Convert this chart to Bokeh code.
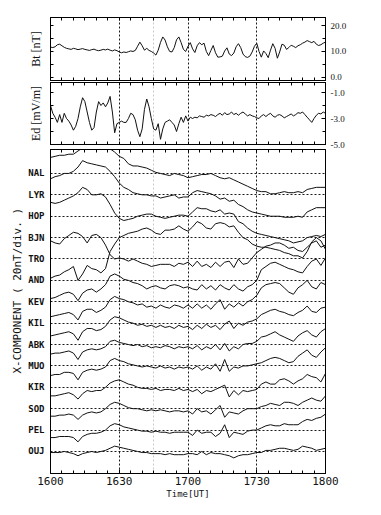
from bokeh.plotting import figure
from bokeh.models import Range1d, LinearAxis, FixedTicker, Grid, Title
from bokeh.layouts import column
from bokeh.embed import file_html
from bokeh.resources import INLINE

# ---------------- data ----------------
# time in minutes after 16:00 UT
minutes_fine = list(range(0, 121))          # 1-min samples (Bt, Ed)
minutes = list(range(0, 121, 2))            # 2-min samples (magnetometers)
time_ticks = [0, 30, 60, 90, 120]
time_labels = ["1600", "1630", "1700", "1730", "1800"]
minor_time_ticks = list(range(0, 121, 5))
grid_times = [30, 60, 90]
faint_grid_times = [45]

bt_nT = [11.7, 11.5, 11.8, 12.6, 12.8, 12.2, 11.6, 11.2, 11.0, 10.8,
         11.2, 11.0, 10.7, 10.9, 11.1, 10.8, 10.6, 10.4, 10.7, 10.9,
         10.5, 10.3, 10.5, 10.8, 10.6, 10.9, 10.5, 10.2, 10.6, 10.3,
         9.8, 9.5, 9.8, 9.6, 9.9, 10.2, 10.0, 10.4, 12.0, 13.6,
         12.2, 10.5, 11.2, 10.4, 10.0, 9.4, 8.6, 10.5, 13.5, 15.6,
         14.4, 11.8, 10.0, 9.8, 11.5, 14.5, 15.6, 13.4, 10.8, 10.0,
         12.0, 13.4, 11.0, 9.6, 12.2, 13.4, 12.6, 13.2, 10.0, 8.4,
         10.4, 12.3, 9.5, 7.8, 7.9, 8.2, 10.2, 11.4, 9.0, 8.4,
         9.4, 11.8, 13.0, 11.5, 9.0, 8.0, 7.7, 8.2, 9.8, 12.0,
         13.2, 10.0, 7.8, 10.2, 9.2, 7.6, 10.5, 13.0, 11.2, 7.4,
         9.8, 12.8, 12.4, 10.8, 11.5, 12.4, 12.0, 11.5, 12.2, 12.6,
         13.2, 13.6, 14.2, 13.8, 13.4, 13.9, 12.8, 12.3, 12.6, 13.2,
         13.6]
bt_ticks = [0, 10, 20]
bt_minor = [0, 5, 10, 15, 20]

ed_mVm = [-2.0, -2.6, -2.9, -3.3, -2.7, -3.3, -2.6, -3.0, -3.2, -3.5,
          -3.9, -3.6, -3.0, -2.1, -1.4, -1.7, -2.5, -3.3, -3.9, -3.7,
          -2.5, -1.7, -2.0, -1.8, -2.1, -1.8, -1.3, -2.5, -4.1, -3.4,
          -3.3, -3.2, -3.3, -3.3, -3.0, -2.6, -2.7, -3.1, -3.9, -4.4,
          -3.8, -2.3, -1.5, -2.1, -3.0, -3.8, -3.9, -3.4, -4.6, -3.8,
          -3.3, -3.2, -3.1, -3.3, -3.5, -4.0, -3.4, -2.9, -3.3, -2.8,
          -3.2, -2.9, -3.0, -2.9, -2.95, -2.8, -2.85, -2.9, -2.75, -2.8,
          -2.7, -2.75, -2.85, -2.7, -2.6, -2.75, -2.55, -2.7, -2.65, -2.5,
          -2.7, -2.6, -2.75, -2.6, -2.5, -2.65, -2.8, -2.7, -2.8, -2.85,
          -2.95, -3.0, -2.8, -2.7, -2.85, -2.7, -2.6, -2.8, -2.9, -2.75,
          -2.7, -2.8, -2.95, -2.85, -2.75, -2.65, -2.8, -2.7, -2.55, -2.6,
          -2.5, -2.7, -2.9, -3.1, -3.3, -3.0, -2.75, -2.6, -2.65, -2.5,
          -2.6]
ed_ticks = [-5, -3, -1]
ed_minor = [-5, -4, -3, -2, -1]

stations = ["NAL", "LYR", "HOP", "BJN", "TRO", "AND", "KEV",
            "KIL", "ABK", "MUO", "KIR", "SOD", "PEL", "OUJ"]
nT_per_div = 20
y_title = "X-COMPONENT ( 20nT/div. )"

# X-component deviations (nT) from each station's baseline, every 2 min
x_nal = [15, 16, 17, 17, 18, 18, 21, 24, 24, 25, 24, 24, 25, 23, 20, 16, 14, 9, 7, 7,
         6, 5, 3, 1, 0, -1, -2, 0, -1, -2, -4, -3, -2, -1, -1, 0, -2, -4, -5, -4,
         -6, -8, -10, -12, -14, -16, -17, -17, -19, -19, -18, -17, -18, -18, -17, -18, -15, -14, -13, -13,
         -13]
x_lyr = [15, 17, 18, 20, 20, 22, 26, 32, 30, 29, 28, 27, 26, 22, 17, 11, 7, 5, 2, 1,
         0, 0, -1, -1, -3, -2, -1, 0, -3, -2, -2, 2, 4, 3, 2, 1, -1, -4, -3, -6,
         -5, -9, -11, -14, -16, -17, -18, -19, -20, -20, -20, -21, -21, -21, -20, -21, -16, -14, -12, -12,
         -12]
x_hop = [13, 12, 13, 15, 17, 19, 22, 27, 25, 20, 20, 21, 18, 11, 3, -2, -4, -3, -2, 0,
         1, 2, 2, 0, -1, -2, -1, 0, 1, 1, 0, 4, 8, 7, 7, 5, 4, 6, 2, 3,
         2, -5, -7, -11, -14, -16, -17, -18, -19, -20, -21, -22, -23, -25, -24, -23, -20, -19, -18, -19,
         -17]
x_bjn = [-3, -5, -6, -1, 2, 5, 4, 1, -5, 2, 3, 0, -7, -16, -20, -19, -20, -22, -20, -22,
         -24, -25, -27, -26, -25, -25, -25, -27, -24, -25, -23, -27, -22, -27, -25, -28, -23, -27, -23, -22,
         -28, -20, -25, -24, -19, -14, -11, -8, -7, -5, -5, -7, -10, -9, -12, -13, -9, -5, -3, -9,
         -7]
x_tro = [-18, -16, -15, -12, -10, -7, -20, -14, -6, -9, -10, -13, -9, 7, 14, 20, 22, 24, 25, 26,
         28, 29, 27, 24, 23, 27, 27, 28, 31, 28, 26, 30, 35, 33, 29, 28, 33, 34, 33, 30,
         31, 25, 20, 18, 14, 12, 11, 11, 10, 9, 8, 6, 5, 3, 3, 1, 7, 16, 20, 17,
         9]
x_and = [-17, -16, -14, -12, -11, -13, -19, -12, -9, -8, -11, -8, -4, 4, 6, 4, 1, 0, -2, -3,
         -5, -8, -6, -5, -7, -8, -5, -4, -5, -7, -6, -8, -9, -4, -8, -5, -9, -4, -7, -9,
         -4, -8, -10, -6, -4, 0, 10, 13, 16, 17, 15, 13, 11, 10, 8, 7, 13, 18, 20, 14,
         21]
x_kev = [-14, -13, -12, -11, -10, -12, -17, -9, -7, -7, -10, -8, -5, 2, 5, 3, 2, 0, -1, -3,
         -2, -5, -4, -6, -3, -5, -6, -3, -4, -6, -3, -6, -2, -6, -3, -7, -2, 2, -7, -2,
         -5, -1, -4, 0, 2, 6, 13, 16, 17, 18, 17, 13, 9, 7, 13, 16, 20, 14, 12, 18,
         16]
x_kil = [-12, -11, -10, -9, -8, -10, -16, -8, -5, -5, -7, -6, -3, 3, 6, 5, 3, 1, 0, -2,
         -1, -3, -2, -4, -2, -4, -3, -5, -2, -4, -3, -6, -2, -5, -1, -4, -2, -6, -1, 2,
         -5, 0, -2, 1, 2, 4, 8, 10, 12, 13, 11, 10, 8, 7, 10, 12, 16, 11, 10, 14,
         15]
x_abk = [-9, -8, -8, -7, -6, -8, -14, -7, -5, -4, -5, -4, -2, 3, 4, 2, 1, 0, -1, 0,
         -2, -1, -3, -2, -3, -1, -2, -4, -2, -3, -2, -4, -1, -5, -2, -4, 0, -5, 1, -6,
         -2, -4, 0, 1, 1, 3, 7, 8, 10, 12, 9, 7, 5, 3, 8, 11, 13, 9, 7, 12,
         15]
x_muo = [-9, -8, -8, -6, -6, -7, -13, -6, -4, -3, -4, -3, -1, 5, 7, 5, 4, 2, 1, 0,
         -1, 0, -1, -2, 0, -2, -1, -3, -1, -2, -1, -3, 0, -4, -1, -3, 2, -5, 6, -5,
         -1, -2, 0, 0, 1, 2, 3, 5, 7, 8, 7, 5, 3, 4, 9, 12, 15, 10, 8, 13,
         17]
x_kir = [-8, -8, -7, -6, -5, -7, -11, -6, -3, -4, -3, -3, 0, 4, 6, 7, 5, 3, 2, 0,
         -1, -1, -2, -1, -3, -2, -2, -3, -1, -3, -2, -4, -2, -6, -3, -4, -2, 0, 2, -9,
         -3, -7, -3, -4, -3, -2, 3, 5, 3, 3, 7, 8, 6, 3, 6, 8, 12, 10, 9, 5,
         13]
x_sod = [-7, -7, -6, -6, -5, -6, -10, -6, -4, -3, -4, -3, 0, 4, 6, 5, 3, 1, 0, 0,
         -1, -2, -1, -2, -1, -2, -3, -2, -2, -3, -2, -5, 0, -3, -2, -5, -1, 3, -8, -3,
         -4, -5, -2, 0, 0, 0, 2, 3, 5, 4, 3, 6, 6, 5, 3, 6, 8, 10, 8, 7,
         12]
x_pel = [-7, -7, -6, -6, -6, -7, -11, -6, -4, -3, -3, -2, 0, 4, 6, 5, 3, 2, 1, 0,
         -1, -1, -2, -1, -2, -2, -3, -2, -2, -2, -2, -5, 0, -3, -2, -2, -6, -3, 5, -7,
         -2, -3, -4, -1, 0, 0, 2, 4, 5, 4, 4, 6, 5, 5, 5, 8, 10, 9, 11, 12,
         15]
x_ouj = [-1, -1, -1, 0, -1, -2, -4, -2, -1, 0, -1, 0, 1, 3, 5, 4, 3, 2, 1, 0,
         -1, -1, -2, -2, -2, -3, -2, -3, -3, -3, -2, -2, -3, 0, -3, -1, -2, -2, -3, -4,
         -6, -4, -3, -3, -2, -1, -1, 1, 1, 2, 3, 3, 2, 1, 2, 5, 4, 3, 1, 2,
         3]
station_series = [x_nal, x_lyr, x_hop, x_bjn, x_tro, x_and, x_kev,
                  x_kil, x_abk, x_muo, x_kir, x_sod, x_pel, x_ouj]

# ---------------- styling helpers ----------------
W = 373
INK = "#111111"
MONO = "DejaVu Sans Mono"
SERIF = "Liberation Serif"


def base_fig(height, y_range, top, bottom):
    p = figure(width=W, height=height, x_range=Range1d(0, 120), y_range=y_range,
               x_axis_type=None, y_axis_type=None,
               output_backend="svg", toolbar_location=None,
               min_border_left=50, min_border_right=48,
               min_border_top=top, min_border_bottom=bottom)
    p.outline_line_color = "black"
    p.outline_line_width = 1
    p.background_fill_color = "white"
    p.border_fill_color = "white"
    p.add_layout(Grid(dimension=0, ticker=FixedTicker(ticks=faint_grid_times),
                      grid_line_color="#c8c8c8", grid_line_dash="2 2", grid_line_width=1))
    p.add_layout(Grid(dimension=0, ticker=FixedTicker(ticks=grid_times),
                      grid_line_color="black", grid_line_dash="2 2", grid_line_width=0.9))
    return p


def inward(ax):
    ax.major_tick_in = 4
    ax.major_tick_out = 0
    ax.minor_tick_in = 3
    ax.minor_tick_out = 0
    ax.axis_line_color = "black"
    ax.major_tick_line_color = "black"
    ax.minor_tick_line_color = "black"
    return ax


def tick_only_axis(minor):
    # only minor ticks -> tick marks without any tick labels
    ax = LinearAxis(ticker=FixedTicker(ticks=[], minor_ticks=minor))
    return inward(ax)


def time_axis_labeled():
    ax = LinearAxis(ticker=FixedTicker(ticks=time_ticks, minor_ticks=minor_time_ticks))
    inward(ax)
    ax.major_label_overrides = dict(zip(time_ticks, time_labels))
    ax.major_label_text_font = MONO
    ax.major_label_text_font_size = "11px"
    ax.major_label_text_color = INK
    ax.major_label_standoff = 3
    ax.axis_label = "Time[UT]"
    ax.axis_label_text_font = MONO
    ax.axis_label_text_font_size = "9px"
    ax.axis_label_text_font_style = "normal"
    ax.axis_label_text_color = INK
    ax.axis_label_standoff = 1
    return ax


def value_axes(p, ticks, minor, fmt, title, standoff):
    left = tick_only_axis(minor)
    left.axis_label = title
    left.axis_label_text_font = SERIF
    left.axis_label_text_font_size = "12px"
    left.axis_label_text_font_style = "normal"
    left.axis_label_text_color = INK
    left.axis_label_standoff = standoff
    right = LinearAxis(ticker=FixedTicker(ticks=ticks, minor_ticks=minor))
    inward(right)
    right.major_label_overrides = {t: fmt % t for t in ticks}
    right.major_label_text_font = SERIF
    right.major_label_text_font_size = "9px"
    right.major_label_text_color = INK
    right.major_label_standoff = 5
    p.add_layout(left, "left")
    p.add_layout(right, "right")


# ---------------- Bt panel ----------------
p1 = base_fig(81, Range1d(-1.2, 23.1), 17, 1)
p1.add_layout(tick_only_axis(minor_time_ticks), "above")
p1.add_layout(tick_only_axis(minor_time_ticks), "below")
value_axes(p1, bt_ticks, bt_minor, "%.1f", "Bt [nT]", 8)
p1.line(minutes_fine, bt_nT, line_color=INK, line_width=1)

# ---------------- Ed panel ----------------
p2 = base_fig(67, Range1d(-5.0, -0.23), 1, 4)
p2.add_layout(tick_only_axis(minor_time_ticks), "above")
p2.add_layout(tick_only_axis(minor_time_ticks), "below")
value_axes(p2, ed_ticks, ed_minor, "%.1f", "Ed [mV/m]", 8)
p2.line(minutes_fine, ed_mVm, line_color=INK, line_width=1)

# ---------------- X-component stack ----------------
baselines = [-nT_per_div * i for i in range(len(stations))]
p3 = base_fig(359, Range1d(baselines[-1] - 20.6, 22.4), 1, 34)
p3.add_layout(tick_only_axis(minor_time_ticks), "above")
p3.add_layout(time_axis_labeled(), "below")
p3.add_layout(Grid(dimension=1, ticker=FixedTicker(ticks=baselines),
                   grid_line_color="black", grid_line_dash="2 2", grid_line_width=0.9))
yax = LinearAxis(ticker=FixedTicker(ticks=baselines))
yax.major_label_overrides = dict(zip(baselines, stations))
yax.major_tick_in = 0
yax.major_tick_out = 0
yax.axis_line_color = "black"
yax.major_label_standoff = 6
yax.major_label_text_font = MONO
yax.major_label_text_font_size = "9px"
yax.major_label_text_font_style = "bold"
yax.major_label_text_color = INK
p3.add_layout(yax, "left")
p3.add_layout(Title(text=y_title, align="left", offset=100, standoff=4,
                    text_font=MONO, text_font_size="11px", text_font_style="normal",
                    text_color=INK), "left")

for base, series in zip(baselines, station_series):
    p3.line(minutes, [base + v for v in series], line_color=INK, line_width=1)

layout = column(p1, p2, p3, spacing=0)
open("out.html", "w").write(file_html(layout, INLINE))
